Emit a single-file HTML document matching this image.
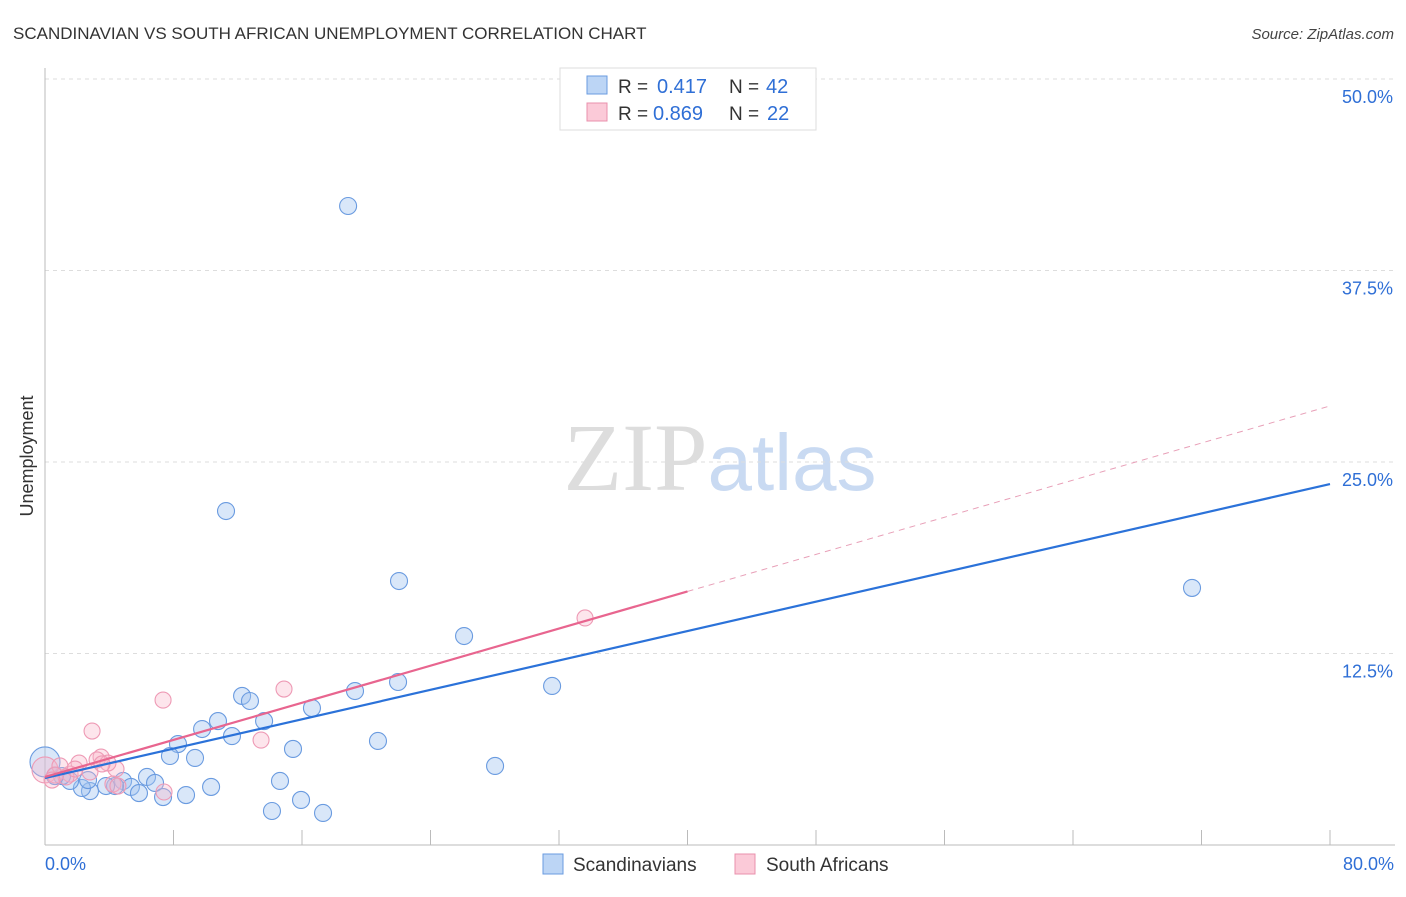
<!DOCTYPE html>
<html><head><meta charset="utf-8"><style>
body{margin:0;background:#fff;font-family:"Liberation Sans",sans-serif;}
</style></head><body>
<svg id="chart" width="1406" height="892" xmlns="http://www.w3.org/2000/svg" font-family="Liberation Sans, sans-serif">
<text x="13" y="39" font-size="17" fill="#333">SCANDINAVIAN VS SOUTH AFRICAN UNEMPLOYMENT CORRELATION CHART</text>
<text x="1394" y="39" font-size="15" fill="#444" text-anchor="end" font-style="italic">Source: ZipAtlas.com</text>
<text x="720" y="490" font-size="96" text-anchor="middle"><tspan fill="#ddd" font-family="Liberation Serif, serif">ZIP</tspan><tspan fill="#c9daf2" font-size="80">atlas</tspan></text>
<text transform="translate(33,456) rotate(-90)" font-size="18" fill="#333" text-anchor="middle">Unemployment</text>
<g id="grid"></g><g id="marks"></g>
<g>
<rect x="560" y="68" width="256" height="62" fill="#fff" stroke="#ddd"/>
<rect x="587" y="76" width="20" height="18" fill="#bcd5f5" stroke="#6a9be0"/>
<rect x="587" y="103" width="20" height="18" fill="#fbcad8" stroke="#ea90ac"/>
<text x="618" y="93" font-size="19" fill="#333">R =</text>
<text x="657" y="93" font-size="20" fill="#2f6fd6">0.417</text>
<text x="729" y="93" font-size="19" fill="#333">N =</text>
<text x="766" y="93" font-size="20" fill="#2f6fd6">42</text>
<text x="618" y="120" font-size="19" fill="#333">R =</text>
<text x="653" y="120" font-size="20" fill="#2f6fd6">0.869</text>
<text x="729" y="120" font-size="19" fill="#333">N =</text>
<text x="767" y="120" font-size="20" fill="#2f6fd6">22</text>
</g>
<g>
<rect x="543" y="854" width="20" height="20" fill="#bcd5f5" stroke="#6a9be0"/>
<text x="573" y="871" font-size="19" fill="#333">Scandinavians</text>
<rect x="735" y="854" width="20" height="20" fill="#fbcad8" stroke="#ea90ac"/>
<text x="766" y="871" font-size="19" fill="#333">South Africans</text>
</g>
</svg>
<script>
const yTicks=[12.5,25,37.5,50];
const yTickLabels=["12.5%","25.0%","37.5%","50.0%"];
const xTickLabels=["0.0%","80.0%"];
const blueX=[18.87,11.27,22.04,71.41,26.09,31.57,21.98,19.30,12.27,12.76,16.62,10.77,13.64,9.78,11.64,8.28,20.73,7.78,9.34,15.44,28.02,6.35,4.86,6.85,14.63,10.34,5.35,4.36,3.80,2.80,2.30,1.56,1.06,0.62,5.85,7.35,8.78,15.94,14.13,17.31,0,2.68];
const blueY=[41.71,21.80,17.23,16.78,13.64,10.38,10.64,10.05,9.73,9.40,8.94,8.09,8.09,7.57,7.11,6.59,6.79,5.81,5.68,6.27,5.16,4.44,4.18,4.05,4.18,3.79,3.79,3.85,3.85,3.52,3.72,4.18,4.50,4.50,3.39,3.13,3.26,2.94,2.22,2.09,5.42,4.24];
const pinkX=[0,7.35,14.88,2.93,13.45,33.62,3.49,3.24,4.42,3.92,2.12,2.80,1.56,0.93,0.62,7.41,4.23,1.31,0.44,3.55,4.54,1.87];
const pinkY=[4.90,9.46,10.18,7.44,6.85,14.82,5.74,5.55,4.96,5.35,5.35,4.77,4.63,5.16,4.57,3.46,3.98,4.44,4.24,5.29,3.85,4.96];
const blueFit=[4.37,23.56];
const pinkFit=[4.44,28.66];
const pinkSolidEnd=40;
const NS="http://www.w3.org/2000/svg";
const X=v=>45+v/80*1285, Y=v=>845-v/50*766;
function mk(t,a,p){const e=document.createElementNS(NS,t);for(const k in a)e.setAttribute(k,a[k]);p.appendChild(e);return e;}
const g=document.getElementById('grid'), m=document.getElementById('marks');
yTicks.forEach((t,i)=>{
 const l=mk('line',{x1:45,x2:1395,y1:Y(t),y2:Y(t),stroke:'#ddd','stroke-dasharray':'4,4'},g);
 
 
 const tx=mk('text',{x:1393,y:Y(t)+24,'font-size':18,fill:'#2f6fd6','text-anchor':'end'},g);tx.textContent=yTickLabels[i];
 
 
});
mk('line',{x1:45,x2:45,y1:68,y2:845,stroke:'#bbb'},g);
mk('line',{x1:45,x2:1395,y1:845,y2:845,stroke:'#bbb'},g);
for(let i=0;i<=10;i++){const t=mk('line',{x1:X(i*8),x2:X(i*8),y1:830,y2:845,stroke:'#bbb'},g);
 
 }
[[0,'start',45],[80,'end',1394]].forEach((d,i)=>{const t=mk('text',{x:d[2],y:870,'font-size':18,fill:'#2f6fd6','text-anchor':d[1]},g);t.textContent=xTickLabels[i];
 
 });
blueX.forEach((x,i)=>{const c=mk('circle',{cx:X(x),cy:Y(blueY[i]),r:(x===0?15:8.5),fill:'rgba(160,195,240,0.4)',stroke:'#6a9be0','stroke-width':1.1},m);
 
 });
pinkX.forEach((x,i)=>{const c=mk('circle',{cx:X(x),cy:Y(pinkY[i]),r:(x===0?13:8),fill:'rgba(248,180,200,0.35)',stroke:'#ee9ab5','stroke-width':1.1},m);
 
 });
const pf=x=>pinkFit[0]+(pinkFit[1]-pinkFit[0])*x/80;
let l=mk('line',{x1:X(0),y1:Y(blueFit[0]),x2:X(80),y2:Y(blueFit[1]),stroke:'#2b72d9','stroke-width':2.2},m);


l=mk('line',{x1:X(0),y1:Y(pf(0)),x2:X(pinkSolidEnd),y2:Y(pf(pinkSolidEnd)),stroke:'#e8658f','stroke-width':2.2},m);


l=mk('line',{x1:X(pinkSolidEnd),y1:Y(pf(pinkSolidEnd)),x2:X(80),y2:Y(pf(80)),stroke:'#e8a0b8','stroke-width':1,'stroke-dasharray':'6,5'},m);


</script>
</body></html>
